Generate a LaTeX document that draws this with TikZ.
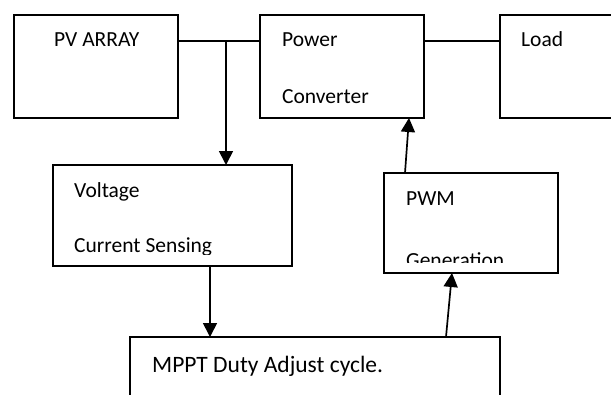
\documentclass[tikz,border=0pt]{standalone}
\usepackage{fontspec}
\setmainfont{Carlito}
\usetikzlibrary{arrows.meta}
\begin{document}
\begin{tikzpicture}[x=1pt,y=-1pt,
  box/.style={draw, line width=1.7pt, rectangle, inner sep=0pt, outer sep=0pt},
  lbl/.style={anchor=base west, inner sep=0pt, font=\fontsize{21.5}{25}\selectfont},
  biglbl/.style={anchor=base west, inner sep=0pt, font=\fontsize{23.5}{27}\selectfont},
  wire/.style={line width=1.7pt},
  arr/.style={line width=1.7pt, -{Triangle[length=14pt,width=14pt]}}]
\useasboundingbox (0,0) rectangle (611,394);
% boxes
\node[box, minimum width=164pt, minimum height=103pt] (pv)   at (96,66.5) {};
\node[box, minimum width=164pt, minimum height=103pt] (pc)   at (342,66.5) {};
\node[box, minimum width=180pt, minimum height=103pt] (load) at (590,66.5) {};
\node[box, minimum width=239pt, minimum height=101pt] (vs)   at (172.5,215.5) {};
\node[box, minimum width=174pt, minimum height=100pt] (pwm)  at (471,223) {};
\node[box, minimum width=370pt, minimum height=93pt]  (mppt) at (315,383.5) {};
% texts
\node[lbl] (tpv) at (54,46) {PV ARRAY};
\node[lbl] (tpc1) at (282,46) {Power};
\node[lbl] (tpc2) at (282,103) {Converter};
\node[lbl] (tload) at (521,46) {Load};
\node[lbl] (tvs1) at (74,197) {Voltage};
\begin{scope}
  \clip (53,165) rectangle (292,254);
  \node[lbl] (tvs2) at (74,252) {Current Sensing};
\end{scope}
\node[lbl] (tpwm1) at (406,205) {PWM};
\begin{scope}
  \clip (384,173) rectangle (558,262);
  \node[lbl] (tpwm2) at (406,267) {Generation};
\end{scope}
\node[biglbl] (tmppt) at (152,372) {MPPT Duty Adjust cycle.};
% connectors
\coordinate (j) at (226,41);
\draw[wire] (pv.east |- j) -- (pc.west |- j);
\draw[wire] (pc.east |- j) -- (load.west |- j);
\draw[arr] (j) -- (j |- vs.north);
\draw[arr] ([xshift=37.5pt]vs.south) -- ([xshift=37.5pt]vs.south |- mppt.north);
\draw[arr] ([xshift=131pt]mppt.north) -- ([xshift=-19pt]pwm.south);
\draw[arr] ([xshift=-66pt]pwm.north) -- ([xshift=67pt]pc.south);
\end{tikzpicture}
\end{document}
